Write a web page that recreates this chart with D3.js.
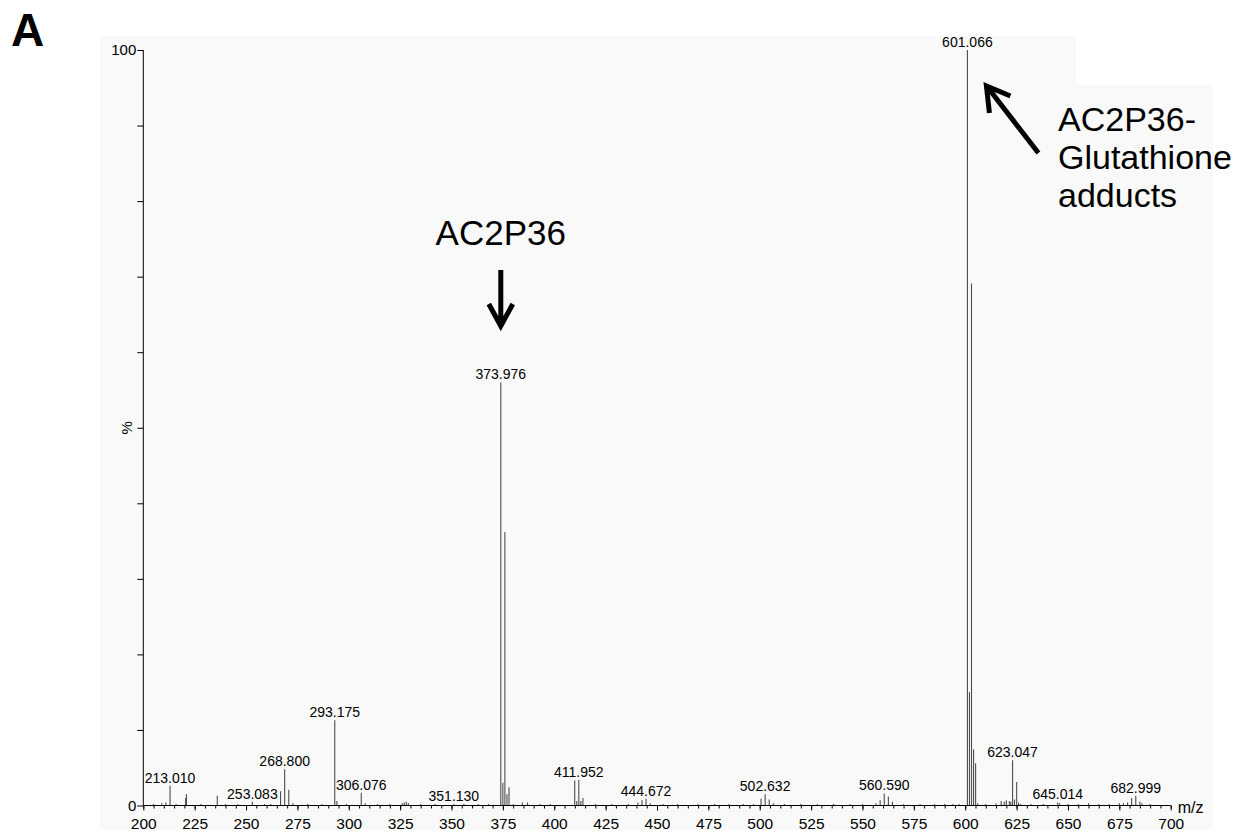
<!DOCTYPE html>
<html>
<head>
<meta charset="utf-8">
<script src="https://cdn.jsdelivr.net/npm/d3@7"></script>
<style>
  html, body { margin: 0; padding: 0; background: #ffffff; }
  svg { display: block; font-family: "Liberation Sans", Arial, Helvetica, sans-serif; }
</style>
</head>
<body>
<svg id="chart" width="1236" height="835"></svg>
<script>
// Labelled peaks (m/z, relative intensity %)
const labeledMz  = [213.010, 253.083, 268.800, 293.175, 306.076, 351.130, 373.976, 411.952, 444.672, 502.632, 560.590, 601.066, 623.047, 645.014, 682.999];
const labeledInt = [2.6, 0.5, 4.8, 11.3, 1.7, 0.2, 56.0, 3.4, 0.9, 1.5, 1.6, 100, 6.0, 0.4, 1.3];

// Unlabelled peaks: isotopes, adducts and baseline signals
const otherMz  = [205.0, 209.0, 211.0, 216.0, 220.6, 221.0, 228.0, 236.0, 240.0, 246.0, 259.0, 262.0, 266.8, 270.8, 272.8,
                  280.0, 287.0, 294.2, 299.0, 308.0, 314.0, 320.0, 326.0, 327.0, 328.0, 329.0, 335.0, 342.0, 356.0, 363.0,
                  368.0, 374.98, 375.97, 376.98, 377.97, 380.0, 384.5, 387.0, 393.0, 398.0, 409.95, 410.95, 412.95, 413.95,
                  420.0, 428.0, 436.0, 440.7, 442.7, 446.7, 453.0, 460.0, 470.0, 478.0, 485.0, 492.0, 497.0, 500.63, 504.63,
                  506.6, 512.0, 520.0, 528.0, 536.0, 544.0, 550.0, 556.6, 558.6, 562.6, 564.6, 570.0, 578.0, 585.0, 590.0,
                  594.0, 597.0, 602.07, 603.06, 604.06, 605.06, 606.06, 610.0, 615.0, 617.5, 619.0, 620.0, 621.5, 622.2,
                  624.0, 625.04, 626.0, 627.0, 632.0, 638.0, 646.0, 650.0, 655.0, 660.0, 665.0, 670.0, 675.0, 677.0, 679.0,
                  681.0, 685.0, 686.0, 690.0];
const otherInt = [0.2, 0.3, 0.4, 0.2, 1.0, 1.5, 0.2, 1.3, 0.2, 0.2, 0.2, 0.2, 1.9, 2.1, 0.3,
                  0.2, 0.2, 0.6, 0.2, 0.3, 0.2, 0.2, 0.3, 0.4, 0.5, 0.3, 0.2, 0.2, 0.2, 0.2,
                  0.2, 3.0, 36.2, 1.5, 2.4, 0.2, 0.4, 0.4, 0.2, 0.2, 3.3, 0.6, 0.6, 1.0,
                  0.2, 0.2, 0.2, 0.4, 0.7, 0.3, 0.2, 0.2, 0.2, 0.2, 0.2, 0.2, 0.2, 0.9, 0.8,
                  0.3, 0.2, 0.2, 0.2, 0.2, 0.2, 0.2, 0.3, 0.7, 1.2, 0.5, 0.2, 0.2, 0.2, 0.2,
                  0.2, 0.2, 15.0, 69.1, 7.4, 5.6, 0.3, 0.2, 0.3, 0.6, 0.5, 0.7, 0.6, 0.5,
                  0.8, 3.1, 0.4, 0.2, 0.2, 0.2, 0.3, 0.2, 0.2, 0.3, 0.2, 0.2, 0.3, 0.3, 0.4,
                  1.0, 0.5, 0.3, 0.2];

const xMajorTicks = [200, 225, 250, 275, 300, 325, 350, 375, 400, 425, 450, 475, 500, 525, 550, 575, 600, 625, 650, 675, 700];
const yLabelTicks = [0, 100];

const svg = d3.select("#chart");
const FONT = "\"Liberation Sans\", Arial, Helvetica, sans-serif";

// plot frame
const x = d3.scaleLinear().domain([200, 700]).range([143.3, 1170.7]);
const y = d3.scaleLinear().domain([0, 100]).range([805.5, 50]);

// light grey spectrum panel
svg.append("path")
  .attr("d", "M100,36 H1076 V85 H1213 V830 H100 Z")
  .attr("fill", "#f9f9f9");

// panel letter
svg.append("text").attr("x", 11).attr("y", 46)
  .attr("font-size", 46).attr("font-weight", "bold").attr("fill", "#000")
  .text("A");

// peaks
const peaks = otherMz.map((m, i) => ({ mz: m, v: otherInt[i] }))
  .concat(labeledMz.map((m, i) => ({ mz: m, v: labeledInt[i] })));

svg.append("g").selectAll("line").data(peaks).join("line")
  .attr("x1", d => x(d.mz)).attr("x2", d => x(d.mz))
  .attr("y1", y(0)).attr("y2", d => y(d.v))
  .attr("stroke", "#4d4d4d").attr("stroke-width", 1.1);

// x axis: minor ticks every 5 units
const xAxis = d3.axisBottom(x)
  .tickValues(d3.range(200, 701, 5))
  .tickSize(3)
  .tickFormat("");
const gx = svg.append("g").attr("transform", `translate(0,${y(0)})`).call(xAxis);
gx.select(".domain").attr("stroke", "#000").attr("d", `M${x(200)},0H${x(700)}`);
gx.selectAll(".tick line").attr("stroke", "#000");

// x axis: labelled major ticks
const gxMajor = svg.append("g").attr("transform", `translate(0,${y(0)})`)
  .call(d3.axisBottom(x).tickValues(xMajorTicks).tickSize(5).tickPadding(7).tickFormat(d3.format("d")));
gxMajor.select(".domain").remove();
gxMajor.selectAll(".tick line").attr("stroke", "#000");
gxMajor.selectAll(".tick text")
  .attr("font-family", FONT).attr("font-size", 15.5).attr("fill", "#000");

// y axis
const gy = svg.append("g").attr("transform", `translate(${x(200)},0)`)
  .call(d3.axisLeft(y).tickValues(d3.range(0, 101, 10)).tickSize(6).tickFormat(""));
gy.select(".domain").attr("stroke", "#000").attr("d", `M0,${y(0)}V${y(100)}`);
gy.selectAll(".tick line").attr("stroke", "#000");

const gyLab = svg.append("g").attr("transform", `translate(${x(200)},0)`)
  .call(d3.axisLeft(y).tickValues(yLabelTicks).tickSize(0).tickPadding(7).tickFormat(d3.format("d")));
gyLab.select(".domain").remove();
gyLab.selectAll(".tick text")
  .attr("font-family", FONT).attr("font-size", 15).attr("fill", "#000");

// axis titles
svg.append("text")
  .attr("transform", `translate(${x(200) - 11},${y(50)}) rotate(-90)`)
  .attr("text-anchor", "middle").attr("font-size", 15).attr("fill", "#000")
  .text("%");
svg.append("text").attr("x", x(700) + 7).attr("y", y(0) + 7)
  .attr("font-size", 16).attr("fill", "#000").text("m/z");

// peak labels
svg.append("g").selectAll("text").data(labeledMz.map((m, i) => ({ mz: m, v: labeledInt[i] })))
  .join("text")
  .attr("x", d => x(d.mz)).attr("y", d => y(d.v) - 3)
  .attr("text-anchor", "middle").attr("font-size", 14).attr("fill", "#000")
  .text(d => d.mz.toFixed(3));

// annotation: parent compound
const ax = x(373.976);
svg.append("text").attr("x", ax).attr("y", 245)
  .attr("text-anchor", "middle").attr("font-size", 35).attr("fill", "#000")
  .text("AC2P36");
svg.append("path")
  .attr("d", `M${ax},270 V324 M${ax - 12},304 L${ax},326 L${ax + 12},304`)
  .attr("fill", "none").attr("stroke", "#000").attr("stroke-width", 5)
  .attr("stroke-linejoin", "miter");

// annotation: glutathione adducts
const bx = x(601.066) + 19;
svg.append("path")
  .attr("d", `M${bx + 52},153 L${bx + 1},87 M${bx + 3},113 L${bx},86 L${bx + 24},96`)
  .attr("fill", "none").attr("stroke", "#000").attr("stroke-width", 5)
  .attr("stroke-linejoin", "miter");

const note = svg.append("text").attr("font-size", 34).attr("fill", "#000");
["AC2P36-", "Glutathione", "adducts"].forEach((t, i) => {
  note.append("tspan").attr("x", 1058).attr("y", 131 + i * 38).text(t);
});
</script>
</body>
</html>
